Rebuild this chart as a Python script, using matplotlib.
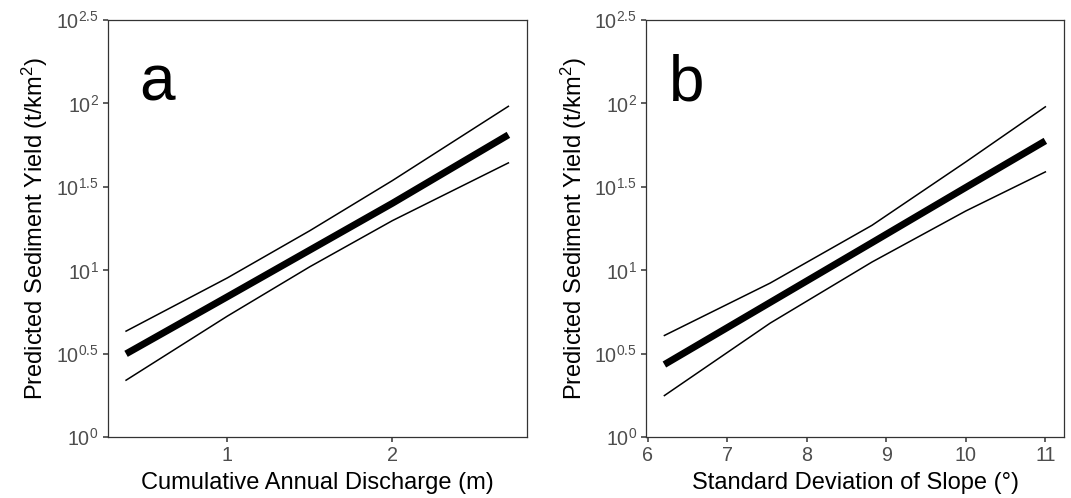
import numpy as np
import matplotlib
matplotlib.use("Agg")
import matplotlib.pyplot as plt

plt.rcParams["font.family"] = ["Liberation Sans", "DejaVu Sans"]
plt.rcParams["mathtext.fontset"] = "custom"
plt.rcParams["mathtext.rm"] = "Liberation Sans"
plt.rcParams["mathtext.it"] = "Liberation Sans:italic"

# Panel a: prediction vs cumulative annual discharge (log10 of yield)
descarga = [0.386, 1.0, 1.5, 2.0, 2.703]
descarga_ajuste = [0.500, 0.842, 1.122, 1.402, 1.812]
descarga_sup = [0.636, 0.955, 1.238, 1.538, 1.983]
descarga_inf = [0.342, 0.726, 1.022, 1.298, 1.644]

# Panel b: prediction vs standard deviation of slope (log10 of yield)
pendiente = [6.21, 7.54, 8.82, 10.0, 11.0]
pendiente_ajuste = [0.436, 0.808, 1.166, 1.497, 1.776]
pendiente_sup = [0.610, 0.924, 1.270, 1.650, 1.980]
pendiente_inf = [0.250, 0.684, 1.050, 1.356, 1.590]

y_ticks_exp = [0, 0.5, 1, 1.5, 2, 2.5]
y_tick_labels = [r"$10^{0}$", r"$10^{0.5}$", r"$10^{1}$", r"$10^{1.5}$",
                 r"$10^{2}$", r"$10^{2.5}$"]

paneles = [
    ("a", 0.075, descarga, descarga_ajuste, descarga_sup, descarga_inf,
     "Cumulative Annual Discharge (m)", [1, 2], (0.275, 2.818)),
    ("b", 0.055, pendiente, pendiente_ajuste, pendiente_sup, pendiente_inf,
     "Standard Deviation of Slope (°)", [6, 7, 8, 9, 10, 11], (5.979, 11.235)),
]

fig = plt.figure(figsize=(10.71, 4.98), dpi=100)
posiciones = [[0.1006, 0.1219, 0.3918, 0.8379],
              [0.6032, 0.1219, 0.3903, 0.8379]]

for pos, (letra, xl, x, fit, sup, inf, xlabel, xticks, xlim) in zip(posiciones, paneles):
    ax = fig.add_axes(pos)
    ax.set_yscale("log")
    x = np.array(x)
    ax.plot(x, 10 ** np.array(sup), color="black", lw=1.1)
    ax.plot(x, 10 ** np.array(inf), color="black", lw=1.1)
    ax.plot(x, 10 ** np.array(fit), color="black", lw=5.0,
            solid_capstyle="butt")

    ax.set_xlim(*xlim)
    ax.set_ylim(1, 10 ** 2.5)
    ax.set_yticks([10 ** e for e in y_ticks_exp])
    ax.set_yticklabels(y_tick_labels)
    ax.yaxis.set_minor_locator(matplotlib.ticker.NullLocator())
    ax.set_xticks(xticks)
    ax.set_xticklabels([str(t) for t in xticks])

    for s in ax.spines.values():
        s.set_color("#333333")
        s.set_linewidth(0.9)
    ax.tick_params(axis="both", colors="#333333", width=1.1, length=3.5,
                   labelsize=14.2, labelcolor="#4D4D4D", pad=3)

    ax.set_xlabel(xlabel, fontsize=17, color="black", labelpad=5)
    ax.set_ylabel(r"Predicted Sediment Yield (t/km$^2$)", fontsize=17,
                  color="black", labelpad=4)
    ax.text(xl, 0.808, letra, transform=ax.transAxes, fontsize=46,
            color="black", ha="left", va="baseline")

fig.savefig("out.png", dpi=100)
